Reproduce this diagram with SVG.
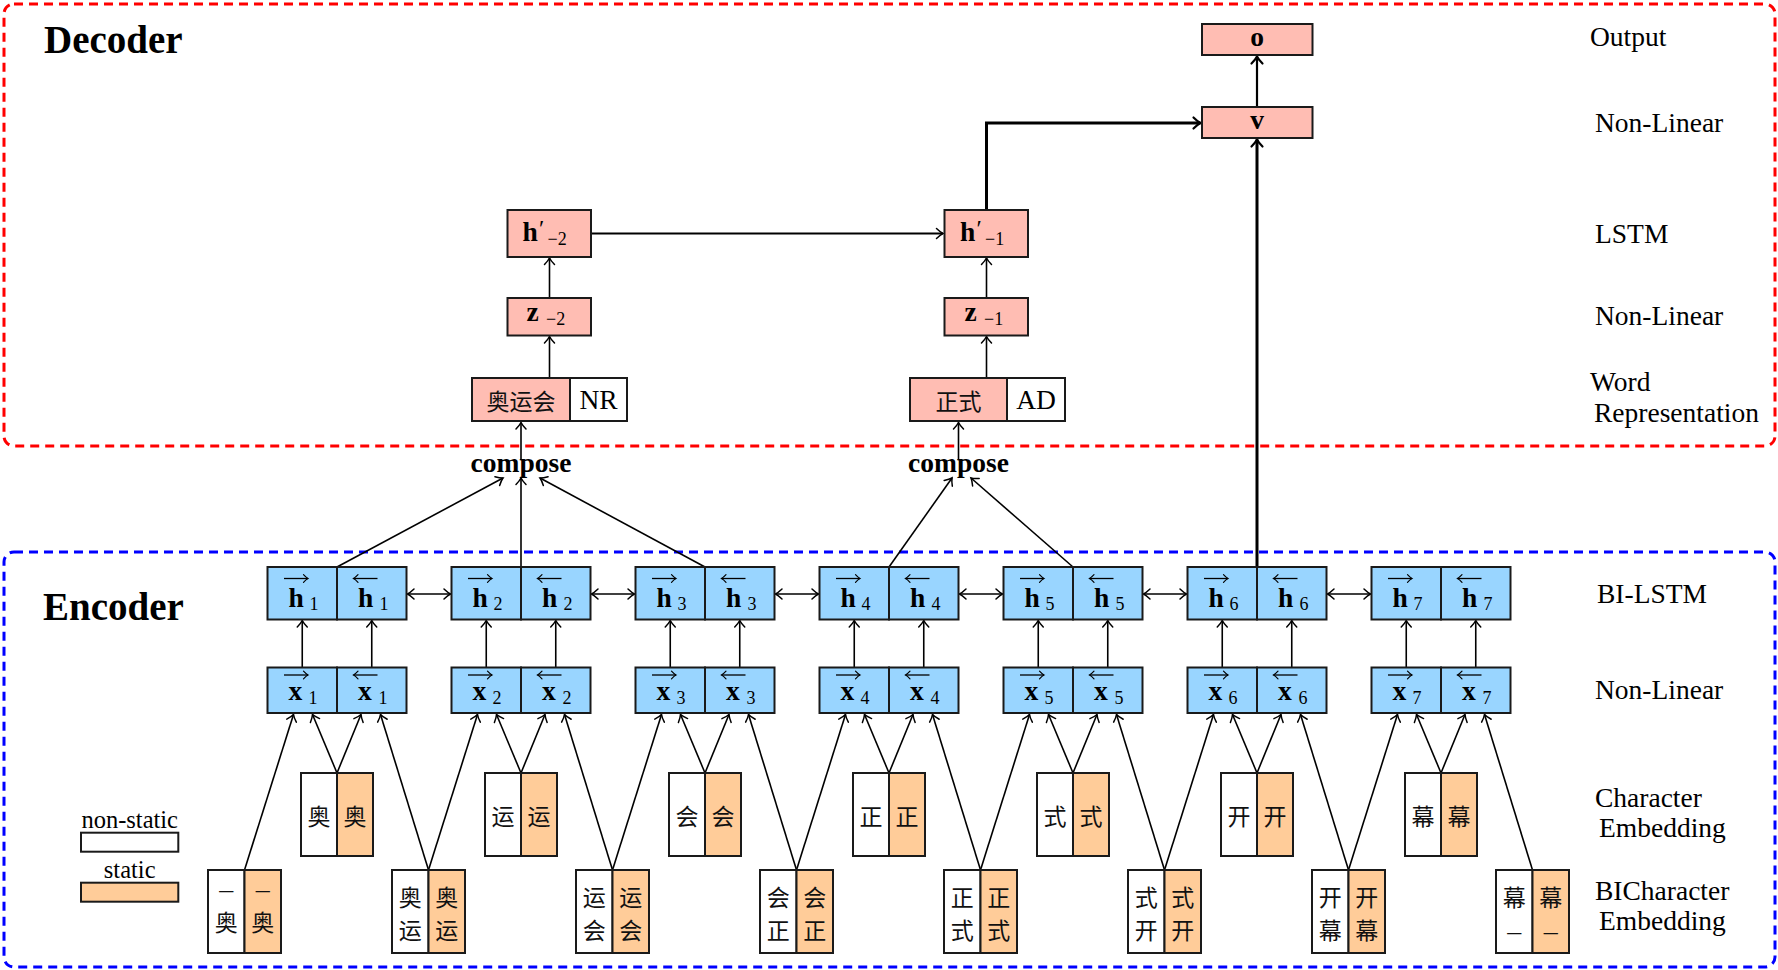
<svg xmlns="http://www.w3.org/2000/svg" width="1778" height="970" viewBox="0 0 1778 970">
<defs>
<style>
.box{stroke:#1a1a1a;stroke-width:2}
.pink{fill:#FFBDB3}.blue{fill:#99D5FF}.orange{fill:#FFCC99}.white{fill:#ffffff}
.t{font-family:"Liberation Serif","Times New Roman",serif;fill:#000}
.lb{font-family:"Liberation Serif","Times New Roman",serif;font-size:27.5px;fill:#000}
.title{font-family:"Liberation Serif","Times New Roman",serif;font-size:39px;font-weight:bold;fill:#000}
.cmp{font-family:"Liberation Serif","Times New Roman",serif;font-size:27.5px;font-weight:bold;fill:#000;text-anchor:middle}
.mb{font-family:"Liberation Serif","Times New Roman",serif;font-size:27.5px;font-weight:bold;fill:#000}
.sb{font-family:"Liberation Serif","Times New Roman",serif;font-size:18px;fill:#000}
.cjk{font-family:"Noto Sans CJK SC","Noto Sans CJK JP",sans-serif;font-size:23px;fill:#111;text-anchor:middle;dominant-baseline:central}
.dash{font-family:"Liberation Serif","Times New Roman",serif;font-size:28px;fill:#111;text-anchor:middle}
.ln{stroke:#000;stroke-width:1.6;fill:none}
.mid{stroke-width:2.2}
.thick{stroke-width:3}
.acc{stroke:#000;stroke-width:1.3;fill:none}
.cont{fill:none;stroke-width:3;stroke-dasharray:9 6}
</style>
<marker id="ah" viewBox="-9 -7 11 14" refX="0" refY="0" markerWidth="11" markerHeight="14" markerUnits="userSpaceOnUse" orient="auto-start-reverse" overflow="visible">
<path d="M-6.5,-5 Q-2.5,-1.2 0,0 Q-2.5,1.2 -6.5,5" fill="none" stroke="#000" stroke-width="1.5" stroke-linecap="round"/>
</marker>
<marker id="ahT" viewBox="-9 -7 11 14" refX="0" refY="0" markerWidth="11" markerHeight="14" markerUnits="userSpaceOnUse" orient="auto" overflow="visible">
<path d="M-7,-5.5 Q-2.8,-1.3 0,0 Q-2.8,1.3 -7,5.5" fill="none" stroke="#000" stroke-width="2.2" stroke-linecap="round"/>
</marker>
<marker id="acc" viewBox="-6 -5 7 10" refX="0" refY="0" markerWidth="7" markerHeight="10" markerUnits="userSpaceOnUse" orient="auto" overflow="visible">
<path d="M-4.5,-3.8 Q-1.8,-0.9 0,0 Q-1.8,0.9 -4.5,3.8" fill="none" stroke="#000" stroke-width="1.2" stroke-linecap="round"/>
</marker>
</defs>

<g id="containers">
<rect id="decoder-box" class="cont" x="4" y="4" width="1771" height="442" rx="10" stroke="#ff0000"/>
<rect id="encoder-box" class="cont" x="4" y="552" width="1771" height="415" rx="10" stroke="#0000ff"/>
<text class="title" x="44" y="53">Decoder</text>
<text class="title" x="43" y="620">Encoder</text>
</g>

<g id="layer-labels">
<text class="lb" x="1590" y="46">Output</text>
<text class="lb" x="1595" y="132">Non-Linear</text>
<text class="lb" x="1595" y="243">LSTM</text>
<text class="lb" x="1595" y="325">Non-Linear</text>
<text class="lb" x="1590" y="391">Word</text>
<text class="lb" x="1594" y="422">Representation</text>
<text class="lb" x="1597" y="603">BI-LSTM</text>
<text class="lb" x="1595" y="699">Non-Linear</text>
<text class="lb" x="1595" y="807">Character</text>
<text class="lb" x="1599" y="837">Embedding</text>
<text class="lb" x="1595" y="900">BICharacter</text>
<text class="lb" x="1599" y="930">Embedding</text>
</g>

<g id="legend">
<text class="t" x="129.7" y="828" font-size="24.5" text-anchor="middle">non-static</text>
<rect class="box white" x="81" y="832.7" width="97.3" height="19"/>
<text class="t" x="129.7" y="877.7" font-size="24.5" text-anchor="middle">static</text>
<rect class="box orange" x="81" y="882.7" width="97.3" height="19"/>
</g>

<g id="connectors">
<line class="ln" x1="244.5" y1="870" x2="293.5" y2="714.5" marker-end="url(#ah)"/>
<line class="ln" x1="428.5" y1="870" x2="380.5" y2="714.5" marker-end="url(#ah)"/>
<line class="ln" x1="428.5" y1="870" x2="477.5" y2="714.5" marker-end="url(#ah)"/>
<line class="ln" x1="612.5" y1="870" x2="564.5" y2="714.5" marker-end="url(#ah)"/>
<line class="ln" x1="612.5" y1="870" x2="661.5" y2="714.5" marker-end="url(#ah)"/>
<line class="ln" x1="796.5" y1="870" x2="748.5" y2="714.5" marker-end="url(#ah)"/>
<line class="ln" x1="796.5" y1="870" x2="845.5" y2="714.5" marker-end="url(#ah)"/>
<line class="ln" x1="980.5" y1="870" x2="932.5" y2="714.5" marker-end="url(#ah)"/>
<line class="ln" x1="980.5" y1="870" x2="1029.5" y2="714.5" marker-end="url(#ah)"/>
<line class="ln" x1="1164.5" y1="870" x2="1116.5" y2="714.5" marker-end="url(#ah)"/>
<line class="ln" x1="1164.5" y1="870" x2="1213.5" y2="714.5" marker-end="url(#ah)"/>
<line class="ln" x1="1348.5" y1="870" x2="1300.5" y2="714.5" marker-end="url(#ah)"/>
<line class="ln" x1="1348.5" y1="870" x2="1397.5" y2="714.5" marker-end="url(#ah)"/>
<line class="ln" x1="1532.5" y1="870" x2="1484.5" y2="714.5" marker-end="url(#ah)"/>
<line class="ln" x1="337" y1="773" x2="312.5" y2="714.5" marker-end="url(#ah)"/>
<line class="ln" x1="337" y1="773" x2="361" y2="714.5" marker-end="url(#ah)"/>
<line class="ln" x1="521" y1="773" x2="496.5" y2="714.5" marker-end="url(#ah)"/>
<line class="ln" x1="521" y1="773" x2="545" y2="714.5" marker-end="url(#ah)"/>
<line class="ln" x1="705" y1="773" x2="680.5" y2="714.5" marker-end="url(#ah)"/>
<line class="ln" x1="705" y1="773" x2="729" y2="714.5" marker-end="url(#ah)"/>
<line class="ln" x1="889" y1="773" x2="864.5" y2="714.5" marker-end="url(#ah)"/>
<line class="ln" x1="889" y1="773" x2="913" y2="714.5" marker-end="url(#ah)"/>
<line class="ln" x1="1073" y1="773" x2="1048.5" y2="714.5" marker-end="url(#ah)"/>
<line class="ln" x1="1073" y1="773" x2="1097" y2="714.5" marker-end="url(#ah)"/>
<line class="ln" x1="1257" y1="773" x2="1232.5" y2="714.5" marker-end="url(#ah)"/>
<line class="ln" x1="1257" y1="773" x2="1281" y2="714.5" marker-end="url(#ah)"/>
<line class="ln" x1="1441" y1="773" x2="1416.5" y2="714.5" marker-end="url(#ah)"/>
<line class="ln" x1="1441" y1="773" x2="1465" y2="714.5" marker-end="url(#ah)"/>
<line class="ln" x1="302.25" y1="667.5" x2="302.25" y2="620.5" marker-end="url(#ah)"/>
<line class="ln" x1="371.75" y1="667.5" x2="371.75" y2="620.5" marker-end="url(#ah)"/>
<line class="ln" x1="486.25" y1="667.5" x2="486.25" y2="620.5" marker-end="url(#ah)"/>
<line class="ln" x1="555.75" y1="667.5" x2="555.75" y2="620.5" marker-end="url(#ah)"/>
<line class="ln" x1="670.25" y1="667.5" x2="670.25" y2="620.5" marker-end="url(#ah)"/>
<line class="ln" x1="739.75" y1="667.5" x2="739.75" y2="620.5" marker-end="url(#ah)"/>
<line class="ln" x1="854.25" y1="667.5" x2="854.25" y2="620.5" marker-end="url(#ah)"/>
<line class="ln" x1="923.75" y1="667.5" x2="923.75" y2="620.5" marker-end="url(#ah)"/>
<line class="ln" x1="1038.25" y1="667.5" x2="1038.25" y2="620.5" marker-end="url(#ah)"/>
<line class="ln" x1="1107.75" y1="667.5" x2="1107.75" y2="620.5" marker-end="url(#ah)"/>
<line class="ln" x1="1222.25" y1="667.5" x2="1222.25" y2="620.5" marker-end="url(#ah)"/>
<line class="ln" x1="1291.75" y1="667.5" x2="1291.75" y2="620.5" marker-end="url(#ah)"/>
<line class="ln" x1="1406.25" y1="667.5" x2="1406.25" y2="620.5" marker-end="url(#ah)"/>
<line class="ln" x1="1475.75" y1="667.5" x2="1475.75" y2="620.5" marker-end="url(#ah)"/>
<line class="ln" x1="407.5" y1="594" x2="450.5" y2="594" marker-start="url(#ah)" marker-end="url(#ah)"/>
<line class="ln" x1="591.5" y1="594" x2="634.5" y2="594" marker-start="url(#ah)" marker-end="url(#ah)"/>
<line class="ln" x1="775.5" y1="594" x2="818.5" y2="594" marker-start="url(#ah)" marker-end="url(#ah)"/>
<line class="ln" x1="959.5" y1="594" x2="1002.5" y2="594" marker-start="url(#ah)" marker-end="url(#ah)"/>
<line class="ln" x1="1143.5" y1="594" x2="1186.5" y2="594" marker-start="url(#ah)" marker-end="url(#ah)"/>
<line class="ln" x1="1327.5" y1="594" x2="1370.5" y2="594" marker-start="url(#ah)" marker-end="url(#ah)"/>
<line class="ln" x1="337" y1="567" x2="503" y2="478" marker-end="url(#ah)"/>
<line class="ln" x1="521" y1="567" x2="521" y2="478" marker-end="url(#ah)"/>
<line class="ln" x1="705" y1="567" x2="540" y2="478" marker-end="url(#ah)"/>
<line class="ln" x1="889" y1="567" x2="952" y2="478" marker-end="url(#ah)"/>
<line class="ln" x1="1073" y1="567" x2="971" y2="478" marker-end="url(#ah)"/>
<line class="ln" x1="521" y1="460" x2="521" y2="422.5" marker-end="url(#ah)"/>
<line class="ln" x1="958.5" y1="460" x2="958.5" y2="422.5" marker-end="url(#ah)"/>
<line class="ln" x1="549.5" y1="378" x2="549.5" y2="336.5" marker-end="url(#ah)"/>
<line class="ln" x1="549.5" y1="298" x2="549.5" y2="258" marker-end="url(#ah)"/>
<line class="ln" x1="986.5" y1="378" x2="986.5" y2="336.5" marker-end="url(#ah)"/>
<line class="ln" x1="986.5" y1="298" x2="986.5" y2="258" marker-end="url(#ah)"/>
<line class="ln mid" x1="591.5" y1="233.5" x2="943" y2="233.5" marker-end="url(#ah)"/>
<path class="ln thick" d="M986.5,210 V123 H1200.5" marker-end="url(#ahT)"/>
<line class="ln thick" x1="1257" y1="567" x2="1257" y2="139.5" marker-end="url(#ahT)"/>
<line class="ln mid" x1="1257" y1="107" x2="1257" y2="56.5" marker-end="url(#ahT)"/>
</g>

<g id="compose1"><text class="cmp" x="521" y="472">compose</text></g>
<g id="compose2"><text class="cmp" x="958.5" y="472">compose</text></g>

<g id="word-aoyunhui">
<rect class="box pink" x="472" y="378" width="98" height="43"/>
<rect class="box white" x="570" y="378" width="57" height="43"/>
<text class="cjk" x="521" y="400" font-size="24">奥运会</text>
<text class="t" x="598.5" y="408.5" font-size="27.5" text-anchor="middle">NR</text>
</g>
<g id="word-zhengshi">
<rect class="box pink" x="910" y="378" width="97" height="43"/>
<rect class="box white" x="1007" y="378" width="58" height="43"/>
<text class="cjk" x="958.5" y="400" font-size="24">正式</text>
<text class="t" x="1036" y="408.5" font-size="27.5" text-anchor="middle">AD</text>
</g>
<g id="z-2">
<rect class="box pink" x="507.5" y="298" width="83.5" height="37.5"/>
<text class="mb" x="526.5" y="321">z</text><text class="sb" x="546" y="324.5">−2</text>
</g>
<g id="z-1">
<rect class="box pink" x="944.5" y="298" width="83.5" height="37.5"/>
<text class="mb" x="964.5" y="321">z</text><text class="sb" x="984" y="324.5">−1</text>
</g>
<g id="hp-2">
<rect class="box pink" x="507.5" y="210" width="83.5" height="47"/>
<text class="mb" x="522.5" y="241">h</text><text class="t" x="539" y="236" font-size="24">′</text><text class="sb" x="547.5" y="245">−2</text>
</g>
<g id="hp-1">
<rect class="box pink" x="944.5" y="210" width="83.5" height="47"/>
<text class="mb" x="960" y="241">h</text><text class="t" x="976.5" y="236" font-size="24">′</text><text class="sb" x="985" y="245">−1</text>
</g>
<g id="v">
<rect class="box pink" x="1202" y="107" width="110.5" height="31"/>
<text class="mb" x="1257" y="128.5" text-anchor="middle">v</text>
</g>
<g id="o">
<rect class="box pink" x="1202" y="24" width="110.5" height="31"/>
<text class="mb" x="1257" y="46" text-anchor="middle">o</text>
</g>

<g id="h1">
<rect class="box blue" x="267.5" y="567" width="69.5" height="52.5"/><rect class="box blue" x="337" y="567" width="69.5" height="52.5"/>
<text class="mb" x="288.5" y="607">h</text><text class="sb" x="309.5" y="610">1</text>
<text class="mb" x="358" y="607">h</text><text class="sb" x="379.5" y="610">1</text>
<line class="acc" x1="284" y1="578.5" x2="308" y2="578.5" marker-end="url(#acc)"/><line class="acc" x1="377.5" y1="578.5" x2="353.5" y2="578.5" marker-end="url(#acc)"/>
</g>
<g id="h2">
<rect class="box blue" x="451.5" y="567" width="69.5" height="52.5"/><rect class="box blue" x="521" y="567" width="69.5" height="52.5"/>
<text class="mb" x="472.5" y="607">h</text><text class="sb" x="493.5" y="610">2</text>
<text class="mb" x="542" y="607">h</text><text class="sb" x="563.5" y="610">2</text>
<line class="acc" x1="468" y1="578.5" x2="492" y2="578.5" marker-end="url(#acc)"/><line class="acc" x1="561.5" y1="578.5" x2="537.5" y2="578.5" marker-end="url(#acc)"/>
</g>
<g id="h3">
<rect class="box blue" x="635.5" y="567" width="69.5" height="52.5"/><rect class="box blue" x="705" y="567" width="69.5" height="52.5"/>
<text class="mb" x="656.5" y="607">h</text><text class="sb" x="677.5" y="610">3</text>
<text class="mb" x="726" y="607">h</text><text class="sb" x="747.5" y="610">3</text>
<line class="acc" x1="652" y1="578.5" x2="676" y2="578.5" marker-end="url(#acc)"/><line class="acc" x1="745.5" y1="578.5" x2="721.5" y2="578.5" marker-end="url(#acc)"/>
</g>
<g id="h4">
<rect class="box blue" x="819.5" y="567" width="69.5" height="52.5"/><rect class="box blue" x="889" y="567" width="69.5" height="52.5"/>
<text class="mb" x="840.5" y="607">h</text><text class="sb" x="861.5" y="610">4</text>
<text class="mb" x="910" y="607">h</text><text class="sb" x="931.5" y="610">4</text>
<line class="acc" x1="836" y1="578.5" x2="860" y2="578.5" marker-end="url(#acc)"/><line class="acc" x1="929.5" y1="578.5" x2="905.5" y2="578.5" marker-end="url(#acc)"/>
</g>
<g id="h5">
<rect class="box blue" x="1003.5" y="567" width="69.5" height="52.5"/><rect class="box blue" x="1073" y="567" width="69.5" height="52.5"/>
<text class="mb" x="1024.5" y="607">h</text><text class="sb" x="1045.5" y="610">5</text>
<text class="mb" x="1094" y="607">h</text><text class="sb" x="1115.5" y="610">5</text>
<line class="acc" x1="1020" y1="578.5" x2="1044" y2="578.5" marker-end="url(#acc)"/><line class="acc" x1="1113.5" y1="578.5" x2="1089.5" y2="578.5" marker-end="url(#acc)"/>
</g>
<g id="h6">
<rect class="box blue" x="1187.5" y="567" width="69.5" height="52.5"/><rect class="box blue" x="1257" y="567" width="69.5" height="52.5"/>
<text class="mb" x="1208.5" y="607">h</text><text class="sb" x="1229.5" y="610">6</text>
<text class="mb" x="1278" y="607">h</text><text class="sb" x="1299.5" y="610">6</text>
<line class="acc" x1="1204" y1="578.5" x2="1228" y2="578.5" marker-end="url(#acc)"/><line class="acc" x1="1297.5" y1="578.5" x2="1273.5" y2="578.5" marker-end="url(#acc)"/>
</g>
<g id="h7">
<rect class="box blue" x="1371.5" y="567" width="69.5" height="52.5"/><rect class="box blue" x="1441" y="567" width="69.5" height="52.5"/>
<text class="mb" x="1392.5" y="607">h</text><text class="sb" x="1413.5" y="610">7</text>
<text class="mb" x="1462" y="607">h</text><text class="sb" x="1483.5" y="610">7</text>
<line class="acc" x1="1388" y1="578.5" x2="1412" y2="578.5" marker-end="url(#acc)"/><line class="acc" x1="1481.5" y1="578.5" x2="1457.5" y2="578.5" marker-end="url(#acc)"/>
</g>

<g id="x1">
<rect class="box blue" x="267.5" y="667.5" width="69.5" height="45.5"/><rect class="box blue" x="337" y="667.5" width="69.5" height="45.5"/>
<text class="mb" x="288.5" y="700">x</text><text class="sb" x="308.5" y="703.5">1</text>
<text class="mb" x="358" y="700">x</text><text class="sb" x="378.5" y="703.5">1</text>
<line class="acc" x1="284" y1="675" x2="308" y2="675" marker-end="url(#acc)"/><line class="acc" x1="377.5" y1="675" x2="353.5" y2="675" marker-end="url(#acc)"/>
</g>
<g id="x2">
<rect class="box blue" x="451.5" y="667.5" width="69.5" height="45.5"/><rect class="box blue" x="521" y="667.5" width="69.5" height="45.5"/>
<text class="mb" x="472.5" y="700">x</text><text class="sb" x="492.5" y="703.5">2</text>
<text class="mb" x="542" y="700">x</text><text class="sb" x="562.5" y="703.5">2</text>
<line class="acc" x1="468" y1="675" x2="492" y2="675" marker-end="url(#acc)"/><line class="acc" x1="561.5" y1="675" x2="537.5" y2="675" marker-end="url(#acc)"/>
</g>
<g id="x3">
<rect class="box blue" x="635.5" y="667.5" width="69.5" height="45.5"/><rect class="box blue" x="705" y="667.5" width="69.5" height="45.5"/>
<text class="mb" x="656.5" y="700">x</text><text class="sb" x="676.5" y="703.5">3</text>
<text class="mb" x="726" y="700">x</text><text class="sb" x="746.5" y="703.5">3</text>
<line class="acc" x1="652" y1="675" x2="676" y2="675" marker-end="url(#acc)"/><line class="acc" x1="745.5" y1="675" x2="721.5" y2="675" marker-end="url(#acc)"/>
</g>
<g id="x4">
<rect class="box blue" x="819.5" y="667.5" width="69.5" height="45.5"/><rect class="box blue" x="889" y="667.5" width="69.5" height="45.5"/>
<text class="mb" x="840.5" y="700">x</text><text class="sb" x="860.5" y="703.5">4</text>
<text class="mb" x="910" y="700">x</text><text class="sb" x="930.5" y="703.5">4</text>
<line class="acc" x1="836" y1="675" x2="860" y2="675" marker-end="url(#acc)"/><line class="acc" x1="929.5" y1="675" x2="905.5" y2="675" marker-end="url(#acc)"/>
</g>
<g id="x5">
<rect class="box blue" x="1003.5" y="667.5" width="69.5" height="45.5"/><rect class="box blue" x="1073" y="667.5" width="69.5" height="45.5"/>
<text class="mb" x="1024.5" y="700">x</text><text class="sb" x="1044.5" y="703.5">5</text>
<text class="mb" x="1094" y="700">x</text><text class="sb" x="1114.5" y="703.5">5</text>
<line class="acc" x1="1020" y1="675" x2="1044" y2="675" marker-end="url(#acc)"/><line class="acc" x1="1113.5" y1="675" x2="1089.5" y2="675" marker-end="url(#acc)"/>
</g>
<g id="x6">
<rect class="box blue" x="1187.5" y="667.5" width="69.5" height="45.5"/><rect class="box blue" x="1257" y="667.5" width="69.5" height="45.5"/>
<text class="mb" x="1208.5" y="700">x</text><text class="sb" x="1228.5" y="703.5">6</text>
<text class="mb" x="1278" y="700">x</text><text class="sb" x="1298.5" y="703.5">6</text>
<line class="acc" x1="1204" y1="675" x2="1228" y2="675" marker-end="url(#acc)"/><line class="acc" x1="1297.5" y1="675" x2="1273.5" y2="675" marker-end="url(#acc)"/>
</g>
<g id="x7">
<rect class="box blue" x="1371.5" y="667.5" width="69.5" height="45.5"/><rect class="box blue" x="1441" y="667.5" width="69.5" height="45.5"/>
<text class="mb" x="1392.5" y="700">x</text><text class="sb" x="1412.5" y="703.5">7</text>
<text class="mb" x="1462" y="700">x</text><text class="sb" x="1482.5" y="703.5">7</text>
<line class="acc" x1="1388" y1="675" x2="1412" y2="675" marker-end="url(#acc)"/><line class="acc" x1="1481.5" y1="675" x2="1457.5" y2="675" marker-end="url(#acc)"/>
</g>

<g id="char1"><rect class="box white" x="301" y="773" width="36" height="83"/><rect class="box orange" x="337" y="773" width="36" height="83"/><text class="cjk" x="319" y="814.5">奥</text><text class="cjk" x="355" y="814.5">奥</text></g>
<g id="char2"><rect class="box white" x="485" y="773" width="36" height="83"/><rect class="box orange" x="521" y="773" width="36" height="83"/><text class="cjk" x="503" y="814.5">运</text><text class="cjk" x="539" y="814.5">运</text></g>
<g id="char3"><rect class="box white" x="669" y="773" width="36" height="83"/><rect class="box orange" x="705" y="773" width="36" height="83"/><text class="cjk" x="687" y="814.5">会</text><text class="cjk" x="723" y="814.5">会</text></g>
<g id="char4"><rect class="box white" x="853" y="773" width="36" height="83"/><rect class="box orange" x="889" y="773" width="36" height="83"/><text class="cjk" x="871" y="814.5">正</text><text class="cjk" x="907" y="814.5">正</text></g>
<g id="char5"><rect class="box white" x="1037" y="773" width="36" height="83"/><rect class="box orange" x="1073" y="773" width="36" height="83"/><text class="cjk" x="1055" y="814.5">式</text><text class="cjk" x="1091" y="814.5">式</text></g>
<g id="char6"><rect class="box white" x="1221" y="773" width="36" height="83"/><rect class="box orange" x="1257" y="773" width="36" height="83"/><text class="cjk" x="1239" y="814.5">开</text><text class="cjk" x="1275" y="814.5">开</text></g>
<g id="char7"><rect class="box white" x="1405" y="773" width="36" height="83"/><rect class="box orange" x="1441" y="773" width="36" height="83"/><text class="cjk" x="1423" y="814.5">幕</text><text class="cjk" x="1459" y="814.5">幕</text></g>

<g id="bichar1"><rect class="box white" x="208" y="870" width="36.5" height="83"/><rect class="box orange" x="244.5" y="870" width="36.5" height="83"/>
<text class="dash" x="226.25" y="897.5">–</text><text class="dash" x="262.75" y="897.5">–</text>
<text class="cjk" x="226.25" y="920.5">奥</text><text class="cjk" x="262.75" y="920.5">奥</text></g>
<g id="bichar2"><rect class="box white" x="392" y="870" width="36.5" height="83"/><rect class="box orange" x="428.5" y="870" width="36.5" height="83"/>
<text class="cjk" x="410.25" y="895.5">奥</text><text class="cjk" x="446.75" y="895.5">奥</text>
<text class="cjk" x="410.25" y="929">运</text><text class="cjk" x="446.75" y="929">运</text></g>
<g id="bichar3"><rect class="box white" x="576" y="870" width="36.5" height="83"/><rect class="box orange" x="612.5" y="870" width="36.5" height="83"/>
<text class="cjk" x="594.25" y="895.5">运</text><text class="cjk" x="630.75" y="895.5">运</text>
<text class="cjk" x="594.25" y="929">会</text><text class="cjk" x="630.75" y="929">会</text></g>
<g id="bichar4"><rect class="box white" x="760" y="870" width="36.5" height="83"/><rect class="box orange" x="796.5" y="870" width="36.5" height="83"/>
<text class="cjk" x="778.25" y="895.5">会</text><text class="cjk" x="814.75" y="895.5">会</text>
<text class="cjk" x="778.25" y="929">正</text><text class="cjk" x="814.75" y="929">正</text></g>
<g id="bichar5"><rect class="box white" x="944" y="870" width="36.5" height="83"/><rect class="box orange" x="980.5" y="870" width="36.5" height="83"/>
<text class="cjk" x="962.25" y="895.5">正</text><text class="cjk" x="998.75" y="895.5">正</text>
<text class="cjk" x="962.25" y="929">式</text><text class="cjk" x="998.75" y="929">式</text></g>
<g id="bichar6"><rect class="box white" x="1128" y="870" width="36.5" height="83"/><rect class="box orange" x="1164.5" y="870" width="36.5" height="83"/>
<text class="cjk" x="1146.25" y="895.5">式</text><text class="cjk" x="1182.75" y="895.5">式</text>
<text class="cjk" x="1146.25" y="929">开</text><text class="cjk" x="1182.75" y="929">开</text></g>
<g id="bichar7"><rect class="box white" x="1312" y="870" width="36.5" height="83"/><rect class="box orange" x="1348.5" y="870" width="36.5" height="83"/>
<text class="cjk" x="1330.25" y="895.5">开</text><text class="cjk" x="1366.75" y="895.5">开</text>
<text class="cjk" x="1330.25" y="929">幕</text><text class="cjk" x="1366.75" y="929">幕</text></g>
<g id="bichar8"><rect class="box white" x="1496" y="870" width="36.5" height="83"/><rect class="box orange" x="1532.5" y="870" width="36.5" height="83"/>
<text class="cjk" x="1514.25" y="895.5">幕</text><text class="cjk" x="1550.75" y="895.5">幕</text>
<text class="dash" x="1514.25" y="940">–</text><text class="dash" x="1550.75" y="940">–</text></g>
</svg>
